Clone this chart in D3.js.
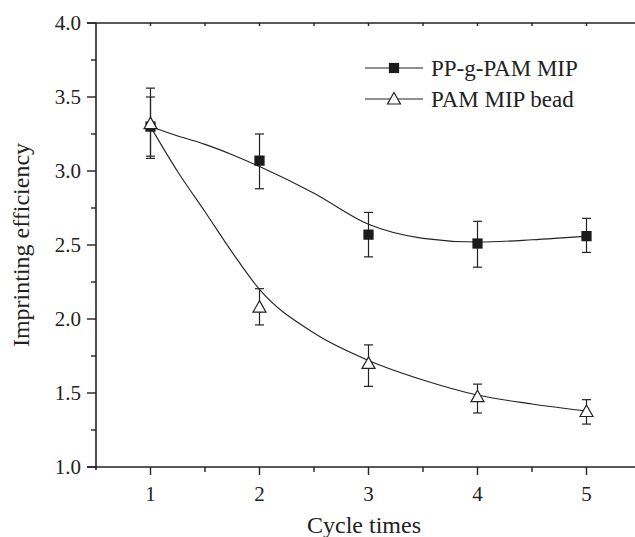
<!DOCTYPE html>
<html>
<head>
<meta charset="utf-8">
<script src="https://cdn.jsdelivr.net/npm/d3@7"></script>
<style>
  body { margin: 0; background: #fff; }
  text { font-family: "Liberation Serif", "Times New Roman", serif; fill: #222; }
</style>
</head>
<body>
<svg id="chart" width="635" height="537"></svg>
<script>
// measured points
const cycles = [1, 2, 3, 4, 5];

const ppMean = [3.30, 3.07, 2.57, 2.51, 2.56];
const ppHigh = [3.50, 3.25, 2.72, 2.66, 2.68];
const ppLow = [3.085, 2.88, 2.42, 2.35, 2.45];

const pamMean = [3.32, 2.08, 1.70, 1.475, 1.375];
const pamHigh = [3.56, 2.205, 1.825, 1.56, 1.455];
const pamLow = [3.10, 1.96, 1.545, 1.365, 1.29];

// fitted curves
const fitX = [1, 1.25, 1.5, 1.75, 2, 2.5, 3, 3.5, 4, 4.5, 5];
const ppFit = [3.30, 3.236, 3.18, 3.11, 3.03, 2.85, 2.64, 2.545, 2.52, 2.535, 2.56];
const pamFit = [3.30, 2.995, 2.725, 2.45, 2.20, 1.905, 1.72, 1.588, 1.486, 1.426, 1.378];

const xTicks = [1, 2, 3, 4, 5];
const xMinor = [1.5, 2.5, 3.5, 4.5];
const yTicks = [1.0, 1.5, 2.0, 2.5, 3.0, 3.5, 4.0];
const yMinor = [1.25, 1.75, 2.25, 2.75, 3.25, 3.75];

const seriesNames = ["PP-g-PAM MIP", "PAM MIP bead"];

const ink = "#222";
const svg = d3.select("#chart");

const x = d3.scaleLinear().domain([0.5, 5.5]).range([96, 641]);
const y = d3.scaleLinear().domain([1, 4]).range([467, 23]);

// axes
const axes = svg.append("g");

function drawTicks(g, vals, orient, len) {
    g.selectAll(null)
        .data(vals)
        .enter()
        .append("line")
        .attr("x1", d => orient === "y" ? x.range()[0] : x(d))
        .attr("x2", d => orient === "y" ? x.range()[0] - len : x(d))
        .attr("y1", d => orient === "y" ? y(d) : (orient === "top" ? y.range()[1] : y.range()[0]))
        .attr("y2", d => orient === "y" ? y(d) : (orient === "top" ? y.range()[1] + len : y.range()[0] + len))
        .attr("stroke", ink)
        .attr("stroke-width", 1.4);
}

axes.append("line")
    .attr("x1", x.range()[0]).attr("x2", x.range()[0])
    .attr("y1", y.range()[1]).attr("y2", y.range()[0] + 3)
    .attr("stroke", ink).attr("stroke-width", 1.6);
axes.append("line")
    .attr("x1", x.range()[0] - 9).attr("x2", 635)
    .attr("y1", y.range()[0]).attr("y2", y.range()[0])
    .attr("stroke", ink).attr("stroke-width", 1.6);
axes.append("line")
    .attr("x1", x.range()[0] - 9).attr("x2", 635)
    .attr("y1", y.range()[1]).attr("y2", y.range()[1])
    .attr("stroke", ink).attr("stroke-width", 1.6);

drawTicks(axes, yTicks, "y", 9);
drawTicks(axes, yMinor, "y", 5);
drawTicks(axes, xTicks, "bottom", 8);
drawTicks(axes, xMinor, "bottom", 5);
drawTicks(axes, xTicks.concat(xMinor), "top", 3);

axes.selectAll(null)
    .data(yTicks)
    .enter()
    .append("text")
    .attr("x", 81)
    .attr("y", d => y(d))
    .attr("dy", "0.34em")
    .attr("text-anchor", "end")
    .attr("font-size", 21)
    .text(d => d.toFixed(1));

axes.selectAll(null)
    .data(xTicks)
    .enter()
    .append("text")
    .attr("x", d => x(d))
    .attr("y", 501)
    .attr("text-anchor", "middle")
    .attr("font-size", 21)
    .text(d => d);

svg.append("text")
    .attr("x", 364)
    .attr("y", 533)
    .attr("text-anchor", "middle")
    .attr("font-size", 24)
    .text("Cycle times");

svg.append("text")
    .attr("transform", "translate(29,245) rotate(-90)")
    .attr("text-anchor", "middle")
    .attr("font-size", 24)
    .text("Imprinting efficiency");

// fitted curves
const line = d3.line()
    .x(d => x(d[0]))
    .y(d => y(d[1]))
    .curve(d3.curveMonotoneX);

[ppFit, pamFit].forEach(fit => {
    svg.append("path")
        .attr("d", line(fitX.map((v, i) => [v, fit[i]])))
        .attr("fill", "none")
        .attr("stroke", ink)
        .attr("stroke-width", 1.1);
});

// error bars
function drawErrors(lows, highs) {
    const g = svg.append("g").attr("stroke", ink).attr("stroke-width", 1.2);
    cycles.forEach((c, i) => {
        g.append("line")
            .attr("x1", x(c)).attr("x2", x(c))
            .attr("y1", y(lows[i])).attr("y2", y(highs[i]));
        [lows[i], highs[i]].forEach(v => {
            g.append("line")
                .attr("x1", x(c) - 4.5).attr("x2", x(c) + 4.5)
                .attr("y1", y(v)).attr("y2", y(v));
        });
    });
}
drawErrors(ppLow, ppHigh);
drawErrors(pamLow, pamHigh);

const squarePath = d3.symbol().type(d3.symbolSquare).size(105);
const trianglePath = "M0,-6.5L6.5,5L-6.5,5Z";

svg.append("g")
    .selectAll("path")
    .data(cycles)
    .enter()
    .append("path")
    .attr("transform", (d, i) => `translate(${x(d)},${y(ppMean[i])})`)
    .attr("d", squarePath)
    .attr("fill", "#1c1c1c");

svg.append("g")
    .selectAll("path")
    .data(cycles)
    .enter()
    .append("path")
    .attr("transform", (d, i) => `translate(${x(d)},${y(pamMean[i])})`)
    .attr("d", trianglePath)
    .attr("fill", "#fff")
    .attr("stroke", ink)
    .attr("stroke-width", 1.2);

// legend
const legend = svg.append("g");
const rows = [68, 99];
seriesNames.forEach((name, i) => {
    legend.append("line")
        .attr("x1", 365).attr("x2", 423)
        .attr("y1", rows[i]).attr("y2", rows[i])
        .attr("stroke", ink).attr("stroke-width", 1.1);
    legend.append("path")
        .attr("transform", `translate(394,${rows[i]})`)
        .attr("d", i === 0 ? squarePath : trianglePath)
        .attr("fill", i === 0 ? "#1c1c1c" : "#fff")
        .attr("stroke", i === 0 ? "none" : ink)
        .attr("stroke-width", 1.2);
    legend.append("text")
        .attr("x", 431)
        .attr("y", rows[i])
        .attr("dy", "0.34em")
        .attr("font-size", 23)
        .text(name);
});
</script>
</body>
</html>
